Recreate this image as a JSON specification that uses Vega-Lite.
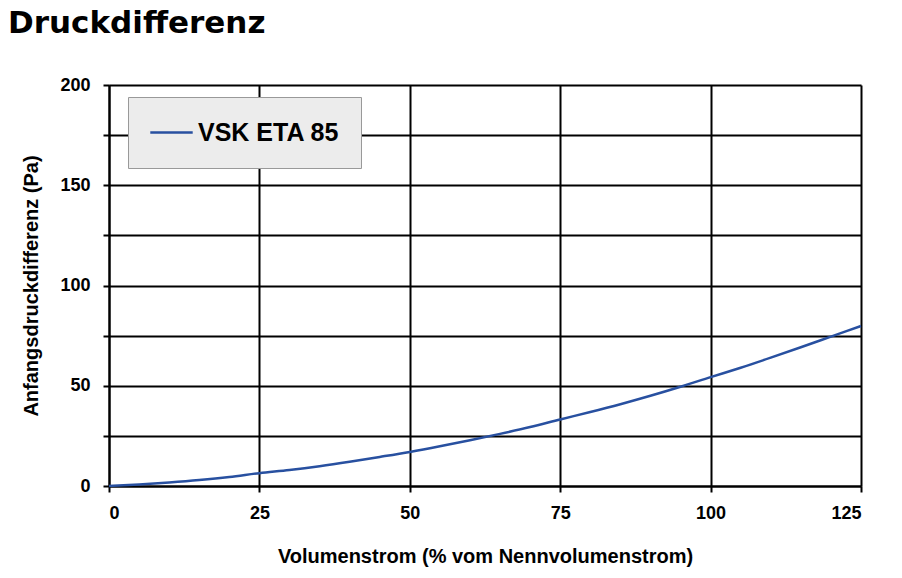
{
  "$schema": "https://vega.github.io/schema/vega-lite/v6.json",
  "autosize": "none",
  "width": 752,
  "height": 401,
  "padding": {"left": 109, "top": 85, "right": 41, "bottom": 92},
  "background": "white",
  "title": {
    "text": "Druckdifferenz",
    "anchor": "start",
    "frame": "group",
    "dx": -101,
    "font": "DejaVu Sans",
    "fontSize": 31,
    "fontWeight": "bold",
    "color": "black",
    "offset": 36
  },
  "data": {
    "values": [
      {"x": 0, "y": 0, "s": "VSK ETA 85"},
      {"x": 5, "y": 0.8, "s": "VSK ETA 85"},
      {"x": 10, "y": 1.8, "s": "VSK ETA 85"},
      {"x": 15, "y": 3.0, "s": "VSK ETA 85"},
      {"x": 20, "y": 4.5, "s": "VSK ETA 85"},
      {"x": 25, "y": 6.4, "s": "VSK ETA 85"},
      {"x": 30, "y": 8.0, "s": "VSK ETA 85"},
      {"x": 35, "y": 9.9, "s": "VSK ETA 85"},
      {"x": 40, "y": 12.1, "s": "VSK ETA 85"},
      {"x": 45, "y": 14.5, "s": "VSK ETA 85"},
      {"x": 50, "y": 17.0, "s": "VSK ETA 85"},
      {"x": 55, "y": 19.8, "s": "VSK ETA 85"},
      {"x": 60, "y": 22.8, "s": "VSK ETA 85"},
      {"x": 65, "y": 26.0, "s": "VSK ETA 85"},
      {"x": 70, "y": 29.4, "s": "VSK ETA 85"},
      {"x": 75, "y": 33.2, "s": "VSK ETA 85"},
      {"x": 80, "y": 36.9, "s": "VSK ETA 85"},
      {"x": 85, "y": 40.8, "s": "VSK ETA 85"},
      {"x": 90, "y": 45.0, "s": "VSK ETA 85"},
      {"x": 95, "y": 49.5, "s": "VSK ETA 85"},
      {"x": 100, "y": 54.3, "s": "VSK ETA 85"},
      {"x": 105, "y": 59.0, "s": "VSK ETA 85"},
      {"x": 110, "y": 64.0, "s": "VSK ETA 85"},
      {"x": 115, "y": 69.2, "s": "VSK ETA 85"},
      {"x": 120, "y": 74.5, "s": "VSK ETA 85"},
      {"x": 125, "y": 79.8, "s": "VSK ETA 85"}
    ]
  },
  "mark": {"type": "line", "strokeWidth": 2.5, "interpolate": "monotone"},
  "encoding": {
    "x": {
      "field": "x",
      "type": "quantitative",
      "scale": {"domain": [0, 125], "nice": false},
      "axis": {
        "title": "Volumenstrom (% vom Nennvolumenstrom)",
        "values": [0, 25, 50, 75, 100, 125],
        "labelPadding": 12,
        "titlePadding": 24
      }
    },
    "y": {
      "field": "y",
      "type": "quantitative",
      "scale": {"domain": [0, 200], "nice": false},
      "axis": {
        "title": "Anfangsdruckdifferenz (Pa)",
        "values": [0, 25, 50, 75, 100, 125, 150, 175, 200],
        "labelExpr": "datum.value % 50 === 0 ? datum.label : ''",
        "labelPadding": 13,
        "titlePadding": 18
      }
    },
    "color": {
      "field": "s",
      "type": "nominal",
      "scale": {"range": ["#2850a0"]},
      "legend": {
        "title": null,
        "orient": "none",
        "legendX": 19,
        "legendY": 12,
        "fillColor": "#ececec",
        "strokeColor": "#999999",
        "padding": 21,
        "clipHeight": 29,
        "symbolType": "stroke",
        "symbolSize": 1800,
        "symbolStrokeWidth": 2.5,
        "labelFontSize": 25,
        "labelFont": "Liberation Sans",
        "labelFontWeight": "bold",
        "labelColor": "black",
        "labelOffset": 4
      }
    }
  },
  "config": {
    "view": {"stroke": null},
    "axis": {
      "grid": true,
      "gridColor": "black",
      "gridWidth": 2,
      "gridOpacity": 1,
      "domainColor": "black",
      "domainWidth": 2,
      "tickColor": "black",
      "tickWidth": 2,
      "tickSize": 6,
      "labelFont": "Liberation Sans",
      "labelFontSize": 18,
      "labelFontWeight": "bold",
      "labelColor": "black",
      "titleFont": "Liberation Sans",
      "titleFontSize": 20,
      "titleFontWeight": "bold",
      "titleColor": "black"
    }
  }
}
